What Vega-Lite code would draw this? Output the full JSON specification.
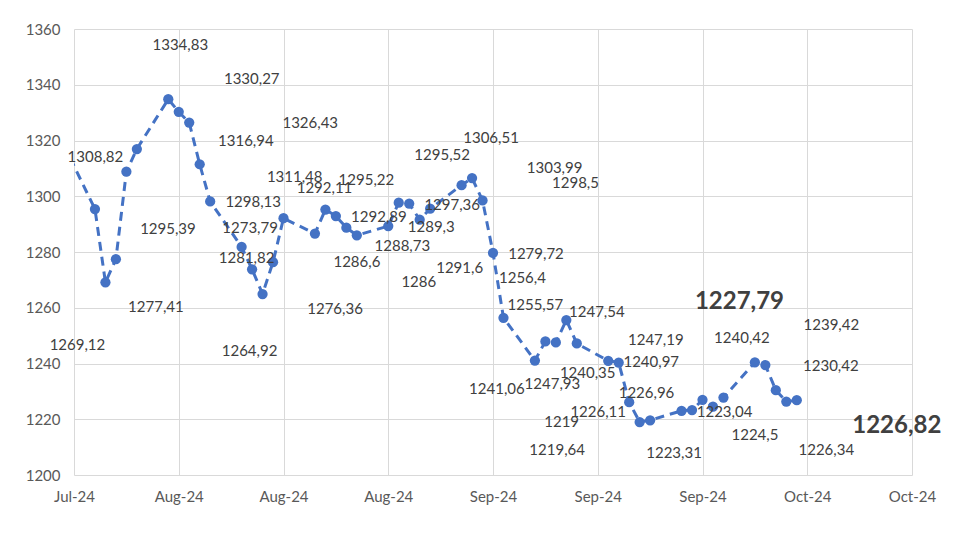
{
  "$schema": "https://vega.github.io/schema/vega-lite/v6.json",
  "autosize": "none",
  "width": 838,
  "height": 446,
  "padding": {"left": 74, "top": 29, "right": 68, "bottom": 59},
  "background": "white",
  "config": {
    "locale": {"number": {"decimal": ",", "thousands": ".", "grouping": [3], "currency": ["", ""]}},
    "view": {"stroke": null},
    "font": "Lato",
    "axis": {
      "labelFont": "Lato",
      "labelFontSize": 15,
      "labelColor": "#595959",
      "labelFlush": false,
      "labelOverlap": false,
      "domain": false,
      "ticks": false,
      "grid": true,
      "gridColor": "#d9d9d9",
      "gridWidth": 1,
      "title": null
    },
    "text": {"font": "Lato", "fontSize": 15, "color": "#404040", "align": "center", "baseline": "middle"}
  },
  "data": {
    "values": [
      {"date": "2024-07-26", "value": 1318.6},
      {"date": "2024-07-29", "value": 1295.39},
      {"date": "2024-07-30", "value": 1269.12},
      {"date": "2024-07-31", "value": 1277.41},
      {"date": "2024-08-01", "value": 1308.82},
      {"date": "2024-08-02", "value": 1316.94},
      {"date": "2024-08-05", "value": 1334.83},
      {"date": "2024-08-06", "value": 1330.27},
      {"date": "2024-08-07", "value": 1326.43},
      {"date": "2024-08-08", "value": 1311.48},
      {"date": "2024-08-09", "value": 1298.13},
      {"date": "2024-08-12", "value": 1281.82},
      {"date": "2024-08-13", "value": 1273.79},
      {"date": "2024-08-14", "value": 1264.92},
      {"date": "2024-08-15", "value": 1276.36},
      {"date": "2024-08-16", "value": 1292.11},
      {"date": "2024-08-19", "value": 1286.6},
      {"date": "2024-08-20", "value": 1295.22},
      {"date": "2024-08-21", "value": 1292.89},
      {"date": "2024-08-22", "value": 1288.73},
      {"date": "2024-08-23", "value": 1286},
      {"date": "2024-08-26", "value": 1289.3},
      {"date": "2024-08-27", "value": 1297.7},
      {"date": "2024-08-28", "value": 1297.36},
      {"date": "2024-08-29", "value": 1291.6},
      {"date": "2024-08-30", "value": 1295.52},
      {"date": "2024-09-02", "value": 1303.99},
      {"date": "2024-09-03", "value": 1306.51},
      {"date": "2024-09-04", "value": 1298.5},
      {"date": "2024-09-05", "value": 1279.72},
      {"date": "2024-09-06", "value": 1256.4},
      {"date": "2024-09-09", "value": 1241.06},
      {"date": "2024-09-10", "value": 1247.93},
      {"date": "2024-09-11", "value": 1247.54},
      {"date": "2024-09-12", "value": 1255.57},
      {"date": "2024-09-13", "value": 1247.19},
      {"date": "2024-09-16", "value": 1240.97},
      {"date": "2024-09-17", "value": 1240.35},
      {"date": "2024-09-18", "value": 1226.11},
      {"date": "2024-09-19", "value": 1219},
      {"date": "2024-09-20", "value": 1219.64},
      {"date": "2024-09-23", "value": 1223.04},
      {"date": "2024-09-24", "value": 1223.31},
      {"date": "2024-09-25", "value": 1226.96},
      {"date": "2024-09-26", "value": 1224.5},
      {"date": "2024-09-27", "value": 1227.79},
      {"date": "2024-09-30", "value": 1240.42},
      {"date": "2024-10-01", "value": 1239.42},
      {"date": "2024-10-02", "value": 1230.42},
      {"date": "2024-10-03", "value": 1226.34},
      {"date": "2024-10-04", "value": 1226.82}
    ]
  },
  "encoding": {
    "x": {
      "field": "date",
      "type": "temporal",
      "scale": {
        "type": "utc",
        "domain": [
          {"year": 2024, "month": 7, "date": 27, "utc": true},
          {"year": 2024, "month": 10, "date": 15, "utc": true}
        ]
      },
      "axis": {
        "format": "%b-%y",
        "labelPadding": 14,
        "values": [
          {"year": 2024, "month": 7, "date": 27, "utc": true},
          {"year": 2024, "month": 8, "date": 6, "utc": true},
          {"year": 2024, "month": 8, "date": 16, "utc": true},
          {"year": 2024, "month": 8, "date": 26, "utc": true},
          {"year": 2024, "month": 9, "date": 5, "utc": true},
          {"year": 2024, "month": 9, "date": 15, "utc": true},
          {"year": 2024, "month": 9, "date": 25, "utc": true},
          {"year": 2024, "month": 10, "date": 5, "utc": true},
          {"year": 2024, "month": 10, "date": 15, "utc": true}
        ]
      }
    },
    "y": {
      "field": "value",
      "type": "quantitative",
      "scale": {"domain": [1200, 1360], "nice": false, "zero": false},
      "axis": {"values": [1200, 1220, 1240, 1260, 1280, 1300, 1320, 1340, 1360], "format": "d", "labelPadding": 14}
    }
  },
  "layer": [
    {"mark": {"type": "line", "clip": true, "color": "#4472C4", "strokeWidth": 3, "strokeDash": [9, 6]}},
    {"mark": {"type": "circle", "clip": true, "color": "#4472C4", "opacity": 1, "size": 105}},
    {"transform": [{"filter": {"field": "value", "oneOf": [1298.13, 1292.89, 1289.3, 1297.36, 1279.72, 1223.04, 1240.97]}}], "mark": {"type": "text", "dx": 43, "dy": 1}, "encoding": {"text": {"field": "value", "type": "quantitative", "format": ".2~f"}}},
    {"transform": [{"filter": {"field": "value", "oneOf": [1277.41, 1291.6, 1226.34]}}], "mark": {"type": "text", "dx": 40, "dy": 48}, "encoding": {"text": {"field": "value", "type": "quantitative", "format": ".2~f"}}},
    {"transform": [{"filter": {"field": "value", "oneOf": [1276.36, 1286]}}], "mark": {"type": "text", "dx": 62, "dy": 47}, "encoding": {"text": {"field": "value", "type": "quantitative", "format": ".2~f"}}},
    {"transform": [{"filter": {"field": "value", "oneOf": [1286.6, 1224.5]}}], "mark": {"type": "text", "dx": 42, "dy": 28}, "encoding": {"text": {"field": "value", "type": "quantitative", "format": ".2~f"}}},
    {"transform": [{"filter": {"field": "value", "oneOf": [1288.73]}}], "mark": {"type": "text", "dx": 56, "dy": 18}, "encoding": {"text": {"field": "value", "type": "quantitative", "format": ".2~f"}}},
    {"transform": [{"filter": {"field": "value", "oneOf": [1292.11, 1295.22, 1247.54]}}], "mark": {"type": "text", "dx": 41, "dy": -30}, "encoding": {"text": {"field": "value", "type": "quantitative", "format": ".2~f"}}},
    {"transform": [{"filter": {"field": "value", "oneOf": [1240.35, 1226.11]}}], "mark": {"type": "text", "dx": -31, "dy": 10}, "encoding": {"text": {"field": "value", "type": "quantitative", "format": ".2~f"}}},
    {"transform": [{"filter": {"field": "value", "oneOf": [1308.82, 1255.57]}}], "mark": {"type": "text", "dx": -31, "dy": -15}, "encoding": {"text": {"field": "value", "type": "quantitative", "format": ".2~f"}}},
    {"transform": [{"filter": {"field": "value", "oneOf": [1303.99, 1298.5]}}], "mark": {"type": "text", "dx": 93, "dy": -17}, "encoding": {"text": {"field": "value", "type": "quantitative", "format": ".2~f"}}},
    {"transform": [{"filter": {"field": "value", "oneOf": [1306.51, 1256.4]}}], "mark": {"type": "text", "dx": 19, "dy": -40}, "encoding": {"text": {"field": "value", "type": "quantitative", "format": ".2~f"}}},
    {"transform": [{"filter": {"field": "value", "oneOf": [1334.83, 1295.52]}}], "mark": {"type": "text", "dx": 12, "dy": -54}, "encoding": {"text": {"field": "value", "type": "quantitative", "format": ".2~f"}}},
    {"transform": [{"filter": {"field": "value", "oneOf": [1273.79]}}], "mark": {"type": "text", "dx": -2, "dy": -41}, "encoding": {"text": {"field": "value", "type": "quantitative", "format": ".2~f"}}},
    {"transform": [{"filter": {"field": "value", "oneOf": [1295.39]}}], "mark": {"type": "text", "dx": 73, "dy": 20}, "encoding": {"text": {"field": "value", "type": "quantitative", "format": ".2~f"}}},
    {"transform": [{"filter": {"field": "value", "oneOf": [1269.12]}}], "mark": {"type": "text", "dx": -28, "dy": 63}, "encoding": {"text": {"field": "value", "type": "quantitative", "format": ".2~f"}}},
    {"transform": [{"filter": {"field": "value", "oneOf": [1316.94]}}], "mark": {"type": "text", "dx": 109, "dy": -8}, "encoding": {"text": {"field": "value", "type": "quantitative", "format": ".2~f"}}},
    {"transform": [{"filter": {"field": "value", "oneOf": [1330.27]}}], "mark": {"type": "text", "dx": 73, "dy": -33}, "encoding": {"text": {"field": "value", "type": "quantitative", "format": ".2~f"}}},
    {"transform": [{"filter": {"field": "value", "oneOf": [1326.43]}}], "mark": {"type": "text", "dx": 121, "dy": 0}, "encoding": {"text": {"field": "value", "type": "quantitative", "format": ".2~f"}}},
    {"transform": [{"filter": {"field": "value", "oneOf": [1311.48]}}], "mark": {"type": "text", "dx": 95, "dy": 13}, "encoding": {"text": {"field": "value", "type": "quantitative", "format": ".2~f"}}},
    {"transform": [{"filter": {"field": "value", "oneOf": [1281.82]}}], "mark": {"type": "text", "dx": 5, "dy": 11}, "encoding": {"text": {"field": "value", "type": "quantitative", "format": ".2~f"}}},
    {"transform": [{"filter": {"field": "value", "oneOf": [1264.92]}}], "mark": {"type": "text", "dx": -13, "dy": 57}, "encoding": {"text": {"field": "value", "type": "quantitative", "format": ".2~f"}}},
    {"transform": [{"filter": {"field": "value", "oneOf": [1241.06]}}], "mark": {"type": "text", "dx": -38, "dy": 28}, "encoding": {"text": {"field": "value", "type": "quantitative", "format": ".2~f"}}},
    {"transform": [{"filter": {"field": "value", "oneOf": [1247.93]}}], "mark": {"type": "text", "dx": 7, "dy": 43}, "encoding": {"text": {"field": "value", "type": "quantitative", "format": ".2~f"}}},
    {"transform": [{"filter": {"field": "value", "oneOf": [1247.19]}}], "mark": {"type": "text", "dx": 79, "dy": -3}, "encoding": {"text": {"field": "value", "type": "quantitative", "format": ".2~f"}}},
    {"transform": [{"filter": {"field": "value", "oneOf": [1219]}}], "mark": {"type": "text", "dx": -78, "dy": 0}, "encoding": {"text": {"field": "value", "type": "quantitative", "format": ".2~f"}}},
    {"transform": [{"filter": {"field": "value", "oneOf": [1219.64]}}], "mark": {"type": "text", "dx": -93, "dy": 30}, "encoding": {"text": {"field": "value", "type": "quantitative", "format": ".2~f"}}},
    {"transform": [{"filter": {"field": "value", "oneOf": [1223.31]}}], "mark": {"type": "text", "dx": -18, "dy": 43}, "encoding": {"text": {"field": "value", "type": "quantitative", "format": ".2~f"}}},
    {"transform": [{"filter": {"field": "value", "oneOf": [1226.96]}}], "mark": {"type": "text", "dx": -56, "dy": -7}, "encoding": {"text": {"field": "value", "type": "quantitative", "format": ".2~f"}}},
    {"transform": [{"filter": {"field": "value", "oneOf": [1240.42]}}], "mark": {"type": "text", "dx": -13, "dy": -24}, "encoding": {"text": {"field": "value", "type": "quantitative", "format": ".2~f"}}},
    {"transform": [{"filter": {"field": "value", "oneOf": [1239.42]}}], "mark": {"type": "text", "dx": 66, "dy": -40}, "encoding": {"text": {"field": "value", "type": "quantitative", "format": ".2~f"}}},
    {"transform": [{"filter": {"field": "value", "oneOf": [1230.42]}}], "mark": {"type": "text", "dx": 55, "dy": -24}, "encoding": {"text": {"field": "value", "type": "quantitative", "format": ".2~f"}}},
    {"transform": [{"filter": {"field": "value", "oneOf": [1227.79]}}], "mark": {"type": "text", "dx": 16, "dy": -96, "fontSize": 24, "fontWeight": "bold"}, "encoding": {"text": {"field": "value", "type": "quantitative", "format": ".2~f"}}},
    {"transform": [{"filter": {"field": "value", "oneOf": [1226.82]}}], "mark": {"type": "text", "dx": 100, "dy": 26, "fontSize": 24, "fontWeight": "bold"}, "encoding": {"text": {"field": "value", "type": "quantitative", "format": ".2~f"}}}
  ]
}
